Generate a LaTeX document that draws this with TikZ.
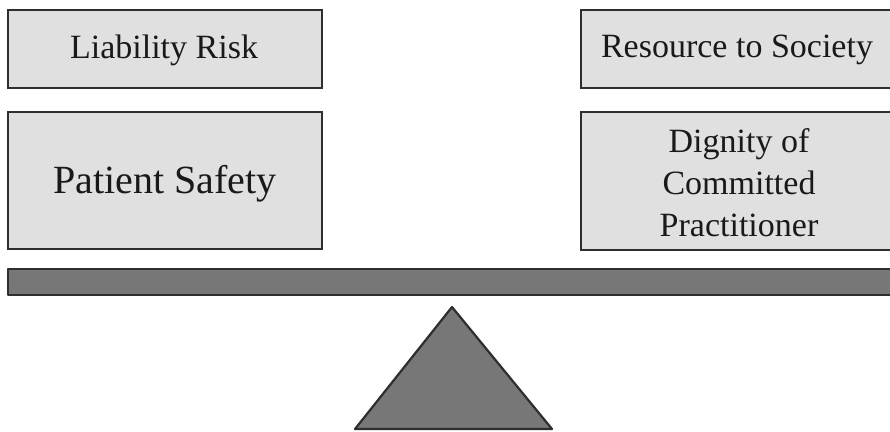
\documentclass[tikz,border=0pt]{standalone}
\usepackage{fontspec}
\setmainfont{Liberation Serif}
\definecolor{boxfill}{HTML}{E0E0E0}
\definecolor{darkfill}{HTML}{777777}
\definecolor{edge}{HTML}{2E2E2E}
\begin{document}
\begin{tikzpicture}[x=1pt,y=-1pt,
  panel/.style={draw=edge,line width=2.2pt,fill=boxfill},
  lbl/.style={text=black!90,align=center,inner sep=0pt},
  heavy/.style={draw=edge,line width=2.2pt,fill=darkfill,line join=round}]
\useasboundingbox (0,0) rectangle (890,431);
\fill[white] (0,0) rectangle (890,431);
% left boxes
\draw[panel] (8,10) rectangle (322,88);
\node[lbl,font=\fontsize{34}{38}\selectfont] (lr) at (164,50) {Liability Risk};
\draw[panel] (8,112) rectangle (322,249);
\node[lbl,font=\fontsize{40}{46}\selectfont] (ps) at (165,184) {Patient Safety};
% right boxes
\draw[panel] (581,10) rectangle (900,88);
\node[lbl,font=\fontsize{34}{38}\selectfont] (rs) at (737,50) {Resource to Society};
\draw[panel] (581,112) rectangle (900,250);
\node[lbl,font=\fontsize{34}{42}\selectfont] (dc) at (739,183) {Dignity of\\Committed\\Practitioner};
% beam
\draw[heavy] (8,269) rectangle (900,295);
% fulcrum
\coordinate (apex) at (452,307);
\coordinate (bl) at (355,429);
\coordinate (br) at (552,429);
\draw[heavy] (apex) -- (br) -- (bl) -- cycle;
\end{tikzpicture}
\end{document}
